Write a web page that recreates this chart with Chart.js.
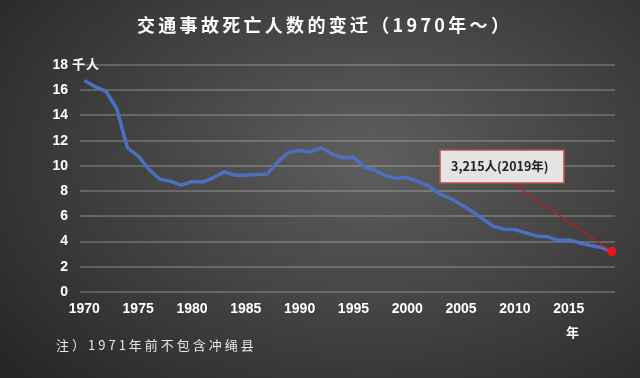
<!DOCTYPE html>
<html>
<head>
<meta charset="utf-8">
<script src="https://cdn.jsdelivr.net/npm/chart.js@4"></script>
<style>
  html, body { margin: 0; padding: 0; }
  body {
    width: 640px; height: 378px; overflow: hidden;
    background: radial-gradient(ellipse 75% 85% at 58% 42%, #5e5e5e 0%, #454545 45%, #262626 100%);
  }
  #wrap { position: relative; width: 640px; height: 378px; }
</style>
</head>
<body>
<div id="wrap"><canvas id="chart" width="640" height="378"></canvas></div>
<script>
// years and deaths (thousand people)
var years = [];
for (var y = 1970; y <= 2019; y++) years.push(y);
var deaths = [16.765, 16.278, 15.918, 14.574, 11.432, 10.792, 9.734, 8.945, 8.783, 8.466,
              8.760, 8.719, 9.073, 9.520, 9.262, 9.261, 9.317, 9.347, 10.344, 11.086,
              11.227, 11.109, 11.452, 10.945, 10.653, 10.684, 9.942, 9.642, 9.214, 9.012,
              9.073, 8.757, 8.396, 7.768, 7.436, 6.937, 6.415, 5.796, 5.209, 4.979,
              4.948, 4.691, 4.438, 4.388, 4.113, 4.117, 3.904, 3.694, 3.532, 3.215];
var xTicks = [1970, 1975, 1980, 1985, 1990, 1995, 2000, 2005, 2010, 2015];
var yTicks = [0, 2, 4, 6, 8, 10, 12, 14, 16, 18];

var titleText = '交通事故死亡人数的变迁（1970年～）';
var noteText = '注）1971年前不包含冲绳县';
var calloutText = '3,215人(2019年)';

var lastIdx = deaths.length - 1;
var numFont = '"Liberation Sans", Arial, sans-serif';
var cjkFont = '"Noto Sans CJK SC", "Noto Sans", sans-serif';

// extra text + callout drawn on top of the chart
var extras = {
  id: 'extras',
  afterDraw: function(chart) {
    var ctx = chart.ctx;
    var ys = chart.scales.y;
    ctx.save();
    ctx.fillStyle = '#ffffff';
    ctx.textBaseline = 'middle';

    // title
    ctx.font = 'bold 18px ' + cjkFont;
    ctx.letterSpacing = '3.3px';
    ctx.textAlign = 'left';
    ctx.fillText(titleText, 137, 25);

    // unit labels
    ctx.letterSpacing = '1px';
    ctx.font = 'bold 13px ' + cjkFont;
    ctx.fillText('千人', 72, ys.getPixelForValue(18) - 1);
    ctx.fillText('年', 566, 332);

    // footnote
    ctx.letterSpacing = '3px';
    ctx.font = '13px ' + cjkFont;
    ctx.fillStyle = '#e8e8e8';
    ctx.fillText(noteText, 56, 345);
    ctx.letterSpacing = '0px';

    // callout line to last point
    var pt = chart.getDatasetMeta(0).data[lastIdx];
    ctx.strokeStyle = '#b81e24';
    ctx.lineWidth = 1.3;
    ctx.beginPath();
    ctx.moveTo(512, 183);
    ctx.lineTo(pt.x, pt.y);
    ctx.stroke();

    // callout box
    ctx.fillStyle = '#e4e4e4';
    ctx.fillRect(440, 150, 124, 33);
    ctx.strokeStyle = '#c44a4a';
    ctx.lineWidth = 1.5;
    ctx.strokeRect(440, 150, 124, 33);
    ctx.fillStyle = '#222222';
    ctx.font = 'bold 12.5px ' + cjkFont;
    ctx.fillText(calloutText, 451, 166);

    // redraw the red point over the callout line
    ctx.fillStyle = '#e8161c';
    ctx.beginPath();
    ctx.arc(pt.x, pt.y, 4.5, 0, Math.PI * 2);
    ctx.fill();
    ctx.restore();
  }
};

new Chart(document.getElementById('chart'), {
  type: 'line',
  data: {
    labels: years,
    datasets: [{
      data: deaths.map(function(v, i) { return { x: years[i], y: v }; }),
      borderColor: '#4a70c2',
      borderWidth: 3.5,
      tension: 0,
      pointRadius: deaths.map(function(v, i) { return i === lastIdx ? 4.5 : 0; }),
      pointBackgroundColor: '#e8161c',
      pointBorderWidth: 0
    }]
  },
  options: {
    responsive: false,
    animation: false,
    layout: { padding: { top: 65, right: 25, bottom: 50, left: 0 } },
    plugins: { legend: { display: false }, tooltip: { enabled: false } },
    scales: {
      x: {
        type: 'linear',
        min: 1969.6,
        max: 2019.3,
        afterBuildTicks: function(s) { s.ticks = xTicks.map(function(v) { return { value: v }; }); },
        afterFit: function(s) { s.height = 36; },
        grid: { display: false, drawTicks: false },
        border: { display: false },
        ticks: {
          color: '#ffffff',
          font: { family: numFont, size: 14, weight: 'bold' },
          padding: 9,
          maxRotation: 0,
          autoSkip: false,
          callback: function(v) { return String(v); }
        }
      },
      y: {
        min: 0,
        max: 18,
        afterBuildTicks: function(s) { s.ticks = yTicks.map(function(v) { return { value: v }; }); },
        afterFit: function(s) { s.width = 80; },
        grid: { color: 'rgba(255,255,255,0.2)', lineWidth: 2, drawTicks: false },
        border: { display: false },
        ticks: {
          color: '#ffffff',
          font: { family: numFont, size: 14, weight: 'bold' },
          padding: 12
        }
      }
    }
  },
  plugins: [extras]
});
</script>
</body>
</html>
